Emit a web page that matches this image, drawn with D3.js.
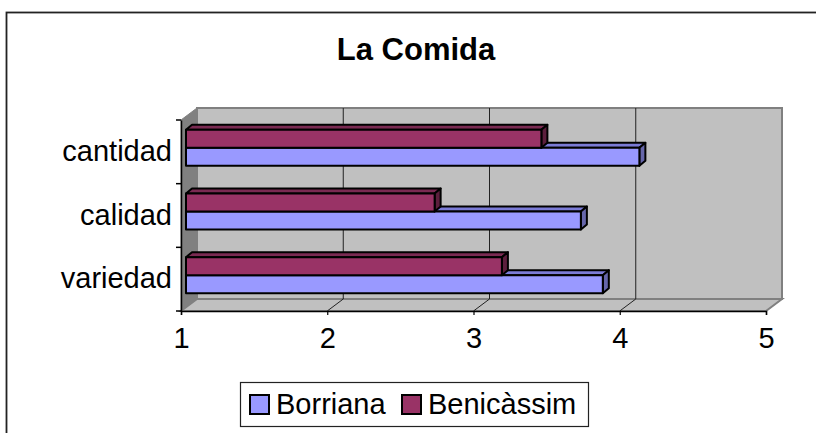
<!DOCTYPE html>
<html><head><meta charset="utf-8">
<script src="https://cdn.jsdelivr.net/npm/d3@7"></script>
<style>html,body{margin:0;padding:0;background:#fff;}svg{display:block;font-family:"Liberation Sans",Arial,sans-serif;}</style>
</head><body>
<svg id="c" width="816" height="433"></svg>
<script>
const title = "La Comida";
const categories = ["cantidad", "calidad", "variedad"];
const seriesNames = ["Borriana", "Benicàssim"];
const borriana = [4.1, 3.7, 3.85];
const benicassim = [3.43, 2.7, 3.16];
const xTicks = [1, 2, 3, 4, 5];
const seriesColors = ["#9999FF", "#993366"];
const topColors = ["#7B7BD6", "#7A2A52"];
const sideColors = ["#6666AA", "#5C1F3D"];

const svg = d3.select("#c");
// chart border (cropped at right/bottom)
svg.append("rect").attr("x", 6.5).attr("y", 12.5).attr("width", 840).attr("height", 460)
  .attr("fill", "#fff").attr("stroke", "#222").attr("stroke-width", 1.8);

const X0 = 181, X1 = 766, Y0 = 120, Y1 = 311;
const DX = 16, DY = -12;
const x = d3.scaleLinear().domain([1, 5]).range([X0, X1]);
const y = d3.scaleBand().domain(categories).range([Y0, Y1]).paddingInner(0).paddingOuter(0);
const FS = 29;

// title
svg.append("text").attr("x", 416).attr("y", 60).attr("text-anchor", "middle")
  .attr("font-size", 31).attr("font-weight", "bold").text(title);

const g = svg.append("g");
// side wall
g.append("polygon").attr("points", [[X0, Y0], [X0 + DX, Y0 + DY], [X0 + DX, Y1 + DY], [X0, Y1]].join(" "))
  .attr("fill", "#808080").attr("stroke", "#808080");
// back wall
g.append("rect").attr("x", X0 + DX).attr("y", Y0 + DY).attr("width", X1 - X0).attr("height", Y1 - Y0)
  .attr("fill", "#C0C0C0").attr("stroke", "#808080").attr("stroke-width", 2);
// floor
g.append("polygon").attr("points", [[X0, Y1], [X0 + DX, Y1 + DY], [X1 + DX, Y1 + DY], [X1, Y1]].join(" "))
  .attr("fill", "#C0C0C0").attr("stroke", "#808080").attr("stroke-width", 2);
// gridlines
const inner = xTicks.slice(1, -1);
g.selectAll(".gv").data(inner).join("line")
  .attr("x1", d => x(d) + DX).attr("x2", d => x(d) + DX).attr("y1", Y0 + DY).attr("y2", Y1 + DY)
  .attr("stroke", "#222").attr("stroke-width", 1);
g.selectAll(".gf").data(inner).join("line")
  .attr("x1", d => x(d)).attr("x2", d => x(d) + DX).attr("y1", Y1).attr("y2", Y1 + DY)
  .attr("stroke", "#222").attr("stroke-width", 1);

// bars
const bh = 18, bdx = 6, bdy = -5, offx = 5, offy = -4;
function bar(cat, val, idx) {
  const yc = y(cat) + y.bandwidth() / 2 + offy;
  const yt = idx === 1 ? yc - bh : yc;
  const yb = yt + bh;
  const xa = x(1) + offx, xb = x(val) + offx;
  const bg = g.append("g").attr("stroke", "#000").attr("stroke-width", 2).attr("stroke-linejoin", "round");
  bg.append("polygon").attr("points", [[xa, yt], [xa + bdx, yt + bdy], [xb + bdx, yt + bdy], [xb, yt]].join(" "))
    .attr("fill", topColors[idx]);
  bg.append("polygon").attr("points", [[xb, yt], [xb + bdx, yt + bdy], [xb + bdx, yb + bdy], [xb, yb]].join(" "))
    .attr("fill", sideColors[idx]);
  bg.append("rect").attr("x", xa).attr("y", yt).attr("width", xb - xa).attr("height", bh)
    .attr("fill", seriesColors[idx]);
}
categories.forEach((c, i) => {
  bar(c, borriana[i], 0);
  bar(c, benicassim[i], 1);
});

// axes
const ax = svg.append("g").attr("transform", `translate(0,${Y1})`)
  .call(d3.axisBottom(x).tickValues(xTicks).tickFormat(d3.format("d")).tickSize(4));
ax.select(".domain").attr("stroke", "#000").attr("stroke-width", 1.5);
ax.selectAll(".tick line").attr("stroke", "#000").attr("stroke-width", 1.2);
ax.selectAll("text").attr("font-size", FS).attr("font-family", "Liberation Sans, Arial").attr("fill", "#000")
  .attr("dy", null).attr("y", 37);

const ay = svg.append("g").attr("transform", `translate(${X0},0)`)
  .call(d3.axisLeft(y).tickSize(0).tickPadding(9));
ay.select(".domain").attr("stroke", "#000").attr("stroke-width", 1.5);
ay.selectAll("text").attr("font-size", FS).attr("font-family", "Liberation Sans, Arial").attr("fill", "#000")
  .attr("dy", null).attr("y", 9);
// category boundary ticks
svg.selectAll(".bt").data(categories.concat(["_end"])).join("line")
  .attr("x1", X0 - 5).attr("x2", X0)
  .attr("y1", d => d === "_end" ? Y1 : y(d)).attr("y2", d => d === "_end" ? Y1 : y(d))
  .attr("stroke", "#000").attr("stroke-width", 1.5);

// legend
const lg = svg.append("g");
lg.append("rect").attr("x", 240.5).attr("y", 382.5).attr("width", 348).attr("height", 44)
  .attr("fill", "#fff").attr("stroke", "#222").attr("stroke-width", 1.2);
const lx = [250, 402];
seriesNames.forEach((n, i) => {
  lg.append("rect").attr("x", lx[i]).attr("y", 395).attr("width", 19).attr("height", 19)
    .attr("fill", seriesColors[i]).attr("stroke", "#000").attr("stroke-width", 2);
  lg.append("text").attr("x", lx[i] + 26).attr("y", 414).attr("font-size", FS).text(n);
});
</script>
</body></html>
